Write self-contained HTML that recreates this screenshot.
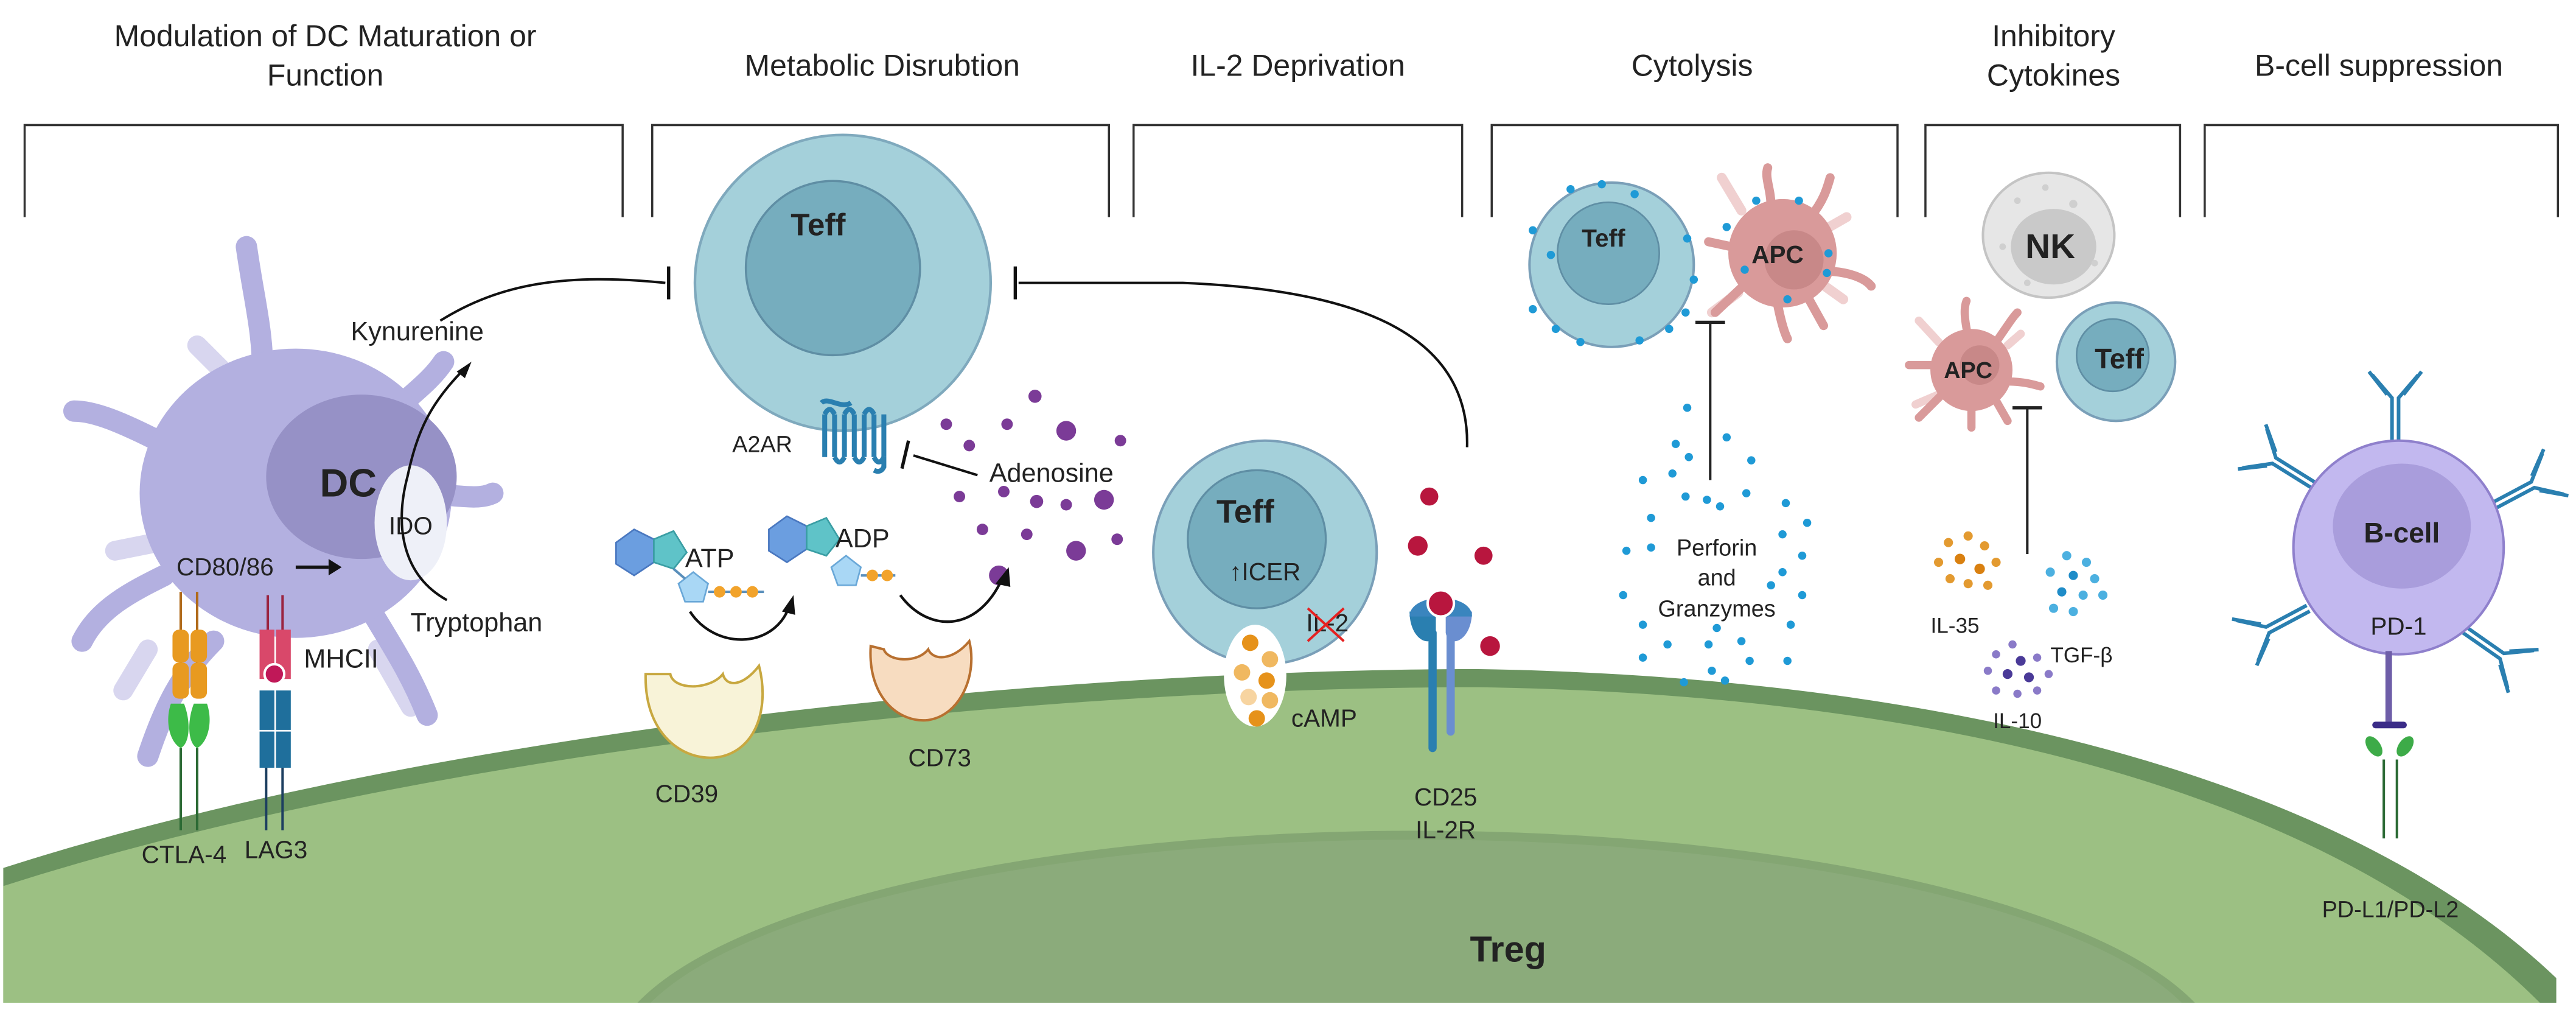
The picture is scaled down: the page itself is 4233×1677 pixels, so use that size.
<!DOCTYPE html>
<html><head><meta charset="utf-8"><style>
html,body{margin:0;padding:0;background:#fff;width:4233px;height:1677px;overflow:hidden;}
svg{display:block;position:absolute;left:0;top:0;}
text{font-family:"Liberation Sans",sans-serif;fill:#222;}
</style></head><body>
<svg width="4233" height="1677" viewBox="0 0 1568 621" xmlns="http://www.w3.org/2000/svg">
<rect width="1568" height="621" fill="#fff"/>
<!-- headers -->
<g font-size="18.5" text-anchor="middle">
<text x="198" y="28">Modulation of DC Maturation or</text>
<text x="198" y="52">Function</text>
<text x="537" y="46">Metabolic Disrubtion</text>
<text x="790" y="46">IL-2 Deprivation</text>
<text x="1030" y="46">Cytolysis</text>
<text x="1250" y="28">Inhibitory</text>
<text x="1250" y="52">Cytokines</text>
<text x="1448" y="46">B-cell suppression</text>
</g>
<g stroke="#333" fill="none" stroke-width="1.3">
<path d="M15,132 V76 H379 V132"/>
<path d="M397,132 V76 H675 V132"/>
<path d="M690,132 V76 H890 V132"/>
<path d="M908,132 V76 H1155 V132"/>
<path d="M1172,132 V76 H1327 V132"/>
<path d="M1342,132 V76 H1557 V132"/>
</g>
<!-- Treg -->
<path d="M2,528 C 270,442 650,407 900,407 C 1160,411 1420,465 1556,595 L1556,610 L2,610 Z" fill="#6b9460"/>
<path d="M2,539 C 270,453 650,418 900,418 C 1160,422 1410,474 1546,610 L2,610 Z" fill="#9cc083"/>
<path d="M388,610 A492,143 0 0 1 1336,610 Z" fill="#84a673"/>
<path d="M396,610 A484,136 0 0 1 1328,610 Z" fill="#8bab7b"/>
<text x="918" y="585" font-size="22" font-weight="bold" text-anchor="middle">Treg</text>

<!-- DC -->
<g stroke-linecap="round" fill="none">
<g stroke="#d8d6ef" stroke-width="12">
<path d="M120,210 L150,240"/><path d="M215,280 L245,255"/><path d="M95,330 L70,335"/><path d="M90,395 L75,420"/><path d="M230,395 L250,430"/>
</g>
<g stroke="#b3b0e0" stroke-width="13">
<path d="M160,230 C160,200 155,185 150,150"/>
<path d="M100,270 C80,260 60,250 45,250"/>
<path d="M240,250 C250,240 262,232 270,220"/>
<path d="M250,300 C275,300 290,305 300,300"/>
<path d="M100,350 C80,360 60,370 50,390"/>
<path d="M225,370 C240,395 250,410 260,435"/>
<path d="M130,390 C110,410 100,430 90,460"/>
</g>
</g>
<ellipse cx="180" cy="300" rx="95" ry="88" fill="#b3b0e0"/>
<ellipse cx="220" cy="290" rx="58" ry="50" fill="#9691c6"/>
<text x="212" y="302" font-size="24" font-weight="bold" text-anchor="middle">DC</text>
<ellipse cx="250" cy="318" rx="22" ry="35" fill="#eef0f8"/>
<text x="250" y="325" font-size="15" text-anchor="middle">IDO</text>
<text x="137" y="350" font-size="15" text-anchor="middle">CD80/86</text>
<path d="M180,345 H200" stroke="#111" stroke-width="2"/><path d="M200,340 L208,345 L200,350 Z" fill="#111"/>
<!-- CTLA4 -->
<g stroke-width="1.5">
<path d="M110,360 V418 M120,360 V418" stroke="#b06a1a"/>
<rect x="105" y="383" width="10" height="20" rx="4" fill="#e89a20"/><rect x="116" y="383" width="10" height="20" rx="4" fill="#e89a20"/>
<rect x="105" y="403" width="10" height="22" rx="4" fill="#e89a20"/><rect x="116" y="403" width="10" height="22" rx="4" fill="#e89a20"/>
<path d="M104,428 C100,440 104,452 110,455 C116,452 116,438 112,428 Z" fill="#3dbb48"/>
<path d="M126,428 C130,440 126,452 120,455 C114,452 114,438 118,428 Z" fill="#3dbb48"/>
<path d="M110,455 V505 M120,455 V505" stroke="#2b6a34"/>
</g>
<!-- LAG3 MHCII -->
<g stroke-width="1.5">
<path d="M163,362 V405 M172,362 V405" stroke="#9a2440"/>
<rect x="158" y="383" width="9" height="30" fill="#d9486a"/><rect x="168" y="383" width="9" height="30" fill="#d9486a"/>
<circle cx="167" cy="410" r="6" fill="#c01858" stroke="#fff" stroke-width="1.5"/>
<rect x="158" y="420" width="9" height="24" fill="#1f6f9c"/><rect x="168" y="420" width="9" height="24" fill="#1f6f9c"/>
<rect x="158" y="445" width="9" height="22" fill="#1f6f9c"/><rect x="168" y="445" width="9" height="22" fill="#1f6f9c"/>
<path d="M162,467 V505 M172,467 V505" stroke="#1d3f60"/>
</g>
<text x="185" y="406" font-size="16">MHCII</text>
<text x="112" y="525" font-size="15" text-anchor="middle">CTLA-4</text>
<text x="168" y="522" font-size="15" text-anchor="middle">LAG3</text>
<!-- kynurenine -->
<text x="254" y="207" font-size="16" text-anchor="middle">Kynurenine</text>
<text x="290" y="384" font-size="16" text-anchor="middle">Tryptophan</text>
<path d="M272,365 C245,350 240,320 248,290 C254,262 262,245 283,224" stroke="#111" stroke-width="1.5" fill="none"/>
<path d="M278,226 L287,220 L283,230 Z" fill="#111"/>
<path d="M268,195 C305,172 345,166 405,172" stroke="#111" stroke-width="1.5" fill="none"/>
<path d="M407,162 V182" stroke="#111" stroke-width="2"/>

<!-- Big Teff -->
<circle cx="513" cy="172" r="90" fill="#a4d0da" stroke="#7fa9bd" stroke-width="1.6"/>
<circle cx="507" cy="163" r="53" fill="#76adbe" stroke="#5f8ea4" stroke-width="1.3"/>
<text x="498" y="143" font-size="19" font-weight="bold" text-anchor="middle">Teff</text>
<!-- A2AR -->
<g stroke="#2a7fb0" stroke-width="3" fill="none">
<path d="M500,245 C504,241 512,249 518,245"/>
<path d="M502,252 V278 M508,252 V278 M514,252 V278 M520,252 V278 M526,252 V278 M532,252 V278 M538,252 V278"/>
<path d="M502,252 Q505,246 508,252 M514,252 Q517,246 520,252 M526,252 Q529,246 532,252 M508,278 Q511,284 514,278 M520,278 Q523,284 526,278 M532,278 Q535,284 538,278"/>
<path d="M538,278 V284 Q536,288 532,286"/>
</g>
<text x="464" y="275" font-size="14" text-anchor="middle">A2AR</text>
<text x="640" y="293" font-size="16" text-anchor="middle">Adenosine</text>
<path d="M595,289 L556,277" stroke="#111" stroke-width="1.5"/><path d="M553,268 L549,285" stroke="#111" stroke-width="2"/>
<g fill="#7b3b97">
<circle cx="630" cy="241" r="4"/><circle cx="576" cy="258" r="3.5"/><circle cx="613" cy="258" r="3.5"/><circle cx="649" cy="262" r="6"/>
<circle cx="682" cy="268" r="3.5"/><circle cx="590" cy="271" r="3.5"/>
<circle cx="584" cy="302" r="3.5"/><circle cx="611" cy="299" r="3.5"/><circle cx="631" cy="305" r="4"/><circle cx="649" cy="307" r="3.5"/><circle cx="672" cy="304" r="6"/>
<circle cx="625" cy="325" r="3.5"/><circle cx="655" cy="335" r="6"/><circle cx="680" cy="328" r="3.5"/><circle cx="608" cy="350" r="6"/><circle cx="598" cy="322" r="3.5"/>
</g>
<!-- ATP ADP -->
<g>
<polygon points="375,330 386,322 398,328 398,342 386,350 375,343" fill="#6b9ee0" stroke="#4a78c0"/>
<polygon points="398,328 410,323 418,336 410,346 398,342" fill="#5fc3c8" stroke="#3a9ea4"/>
<polygon points="413,355 422,348 431,355 428,366 417,366" fill="#a9d7f5" stroke="#6aa8d8"/>
<path d="M410,346 L417,352 M431,360 H465" stroke="#5a8fbb" stroke-width="1.5"/>
<circle cx="438" cy="360" r="3.5" fill="#f2a32b"/><circle cx="448" cy="360" r="3.5" fill="#f2a32b"/><circle cx="458" cy="360" r="3.5" fill="#f2a32b"/>
<text x="432" y="345" font-size="16" text-anchor="middle">ATP</text>
<polygon points="468,322 479,314 491,320 491,334 479,342 468,335" fill="#6b9ee0" stroke="#4a78c0"/>
<polygon points="491,320 503,315 511,328 503,338 491,334" fill="#5fc3c8" stroke="#3a9ea4"/>
<polygon points="506,345 515,338 524,345 521,356 510,356" fill="#a9d7f5" stroke="#6aa8d8"/>
<path d="M524,350 H545" stroke="#5a8fbb" stroke-width="1.5"/>
<circle cx="531" cy="350" r="3.5" fill="#f2a32b"/><circle cx="540" cy="350" r="3.5" fill="#f2a32b"/>
<text x="525" y="333" font-size="16" text-anchor="middle">ADP</text>
</g>
<path d="M420,372 C435,395 470,395 480,370" stroke="#111" stroke-width="1.6" fill="none"/><path d="M476,372 L483,362 L484,374 Z" fill="#111"/>
<path d="M548,362 C565,385 595,385 610,352" stroke="#111" stroke-width="1.6" fill="none"/><path d="M606,355 L614,345 L615,357 Z" fill="#111"/>
<path d="M393,410 C392,450 420,465 440,460 C462,454 468,428 462,405 C452,418 442,418 440,410 C432,420 410,420 408,410 Z" fill="#f8f3d8" stroke="#c8a840" stroke-width="1.5"/>
<text x="418" y="488" font-size="15" text-anchor="middle">CD39</text>
<path d="M530,393 C528,425 548,440 565,438 C585,435 595,410 590,390 C580,402 568,402 565,395 C558,404 540,402 538,395 Z" fill="#f7dcc0" stroke="#b87030" stroke-width="1.5"/>
<text x="572" y="466" font-size="15" text-anchor="middle">CD73</text>

<!-- long inhibition arc -->
<path d="M893,272 C895,200 820,176 720,172 L620,172" stroke="#111" stroke-width="1.5" fill="none"/>
<path d="M618,162 V182" stroke="#111" stroke-width="2"/>

<!-- Teff IL2 -->
<circle cx="770" cy="336" r="68" fill="#a4d0da" stroke="#7a9fb8" stroke-width="1.5"/>
<circle cx="765" cy="328" r="42" fill="#76adbe" stroke="#5f8ea4" stroke-width="1.2"/>
<text x="758" y="318" font-size="20" font-weight="bold" text-anchor="middle">Teff</text>
<text x="770" y="353" font-size="15" text-anchor="middle">↑ICER</text>
<text x="808" y="384" font-size="15" text-anchor="middle">IL-2</text>
<path d="M796,370 L818,390 M818,370 L796,390" stroke="#e52020" stroke-width="1.5"/>
<ellipse cx="764" cy="411" rx="19" ry="31" fill="#fff"/>
<g fill="#e6921a"><circle cx="761" cy="391" r="5"/><circle cx="773" cy="401" r="5" fill="#f0b860"/><circle cx="756" cy="409" r="5" fill="#f0b860"/><circle cx="771" cy="414" r="5"/><circle cx="760" cy="424" r="5" fill="#f7d4a0"/><circle cx="773" cy="426" r="5" fill="#f0b860"/><circle cx="765" cy="437" r="5"/></g>
<text x="806" y="442" font-size="15" text-anchor="middle">cAMP</text>
<!-- CD25 -->
<path d="M872,385 V455" stroke="#2a7fb0" stroke-width="5" stroke-linecap="round"/>
<path d="M883,385 V445" stroke="#6a8ed0" stroke-width="5" stroke-linecap="round"/>
<path d="M858,372 C858,390 872,395 874,385 V372 Z" fill="#2a7fb0"/>
<path d="M896,372 C896,390 882,395 880,385 V372 Z" fill="#6a8ed0"/>
<path d="M858,375 C858,360 896,360 896,375 Z" fill="#3a85be"/>
<circle cx="877" cy="367" r="8" fill="#b8163e" stroke="#fff" stroke-width="1.5"/>
<g fill="#b8163e"><circle cx="870" cy="302" r="5.5"/><circle cx="863" cy="332" r="6"/><circle cx="903" cy="338" r="5.5"/><circle cx="907" cy="393" r="6"/></g>
<text x="880" y="490" font-size="15" text-anchor="middle">CD25</text>
<text x="880" y="510" font-size="15" text-anchor="middle">IL-2R</text>

<!-- Cytolysis -->
<circle cx="981" cy="161" r="50" fill="#a4d0da" stroke="#7a9fb8" stroke-width="1.5"/>
<circle cx="979" cy="154" r="31" fill="#76adbe" stroke="#5f8ea4"/>
<text x="976" y="150" font-size="15" font-weight="bold" text-anchor="middle">Teff</text>
<g stroke-linecap="round" fill="none">
<g stroke="#f0d0d0" stroke-width="6"><path d="M1060,128 L1048,108"/><path d="M1110,140 L1124,132"/><path d="M1108,172 L1122,182"/><path d="M1058,178 L1042,190"/></g>
<g stroke="#d99a9a" stroke-width="5.5"><path d="M1078,125 C1078,115 1074,108 1076,102"/><path d="M1102,132 C1110,122 1112,115 1114,108"/><path d="M1054,150 L1040,147"/><path d="M1115,165 C1128,166 1136,170 1139,174"/><path d="M1060,175 L1044,190"/><path d="M1082,185 C1084,195 1086,202 1088,206"/><path d="M1100,180 L1110,198"/></g>
</g>
<circle cx="1085" cy="154" r="33" fill="#d99a9a"/>
<circle cx="1092" cy="158" r="18" fill="#c88888"/>
<text x="1082" y="160" font-size="15" font-weight="bold" text-anchor="middle">APC</text>
<g fill="#1f9ad6">
<circle cx="956" cy="115" r="2.5"/><circle cx="975" cy="112" r="2.5"/><circle cx="995" cy="118" r="2.5"/><circle cx="933" cy="140" r="2.5"/><circle cx="1027" cy="145" r="2.5"/><circle cx="1031" cy="170" r="2.5"/><circle cx="933" cy="188" r="2.5"/><circle cx="947" cy="200" r="2.5"/><circle cx="962" cy="208" r="2.5"/><circle cx="998" cy="207" r="2.5"/><circle cx="1026" cy="190" r="2.5"/><circle cx="944" cy="155" r="2.5"/><circle cx="1016" cy="200" r="2.5"/>
<circle cx="1069" cy="122" r="2.5"/><circle cx="1095" cy="122" r="2.5"/><circle cx="1051" cy="138" r="2.5"/><circle cx="1113" cy="154" r="2.5"/><circle cx="1112" cy="166" r="2.5"/><circle cx="1062" cy="164" r="2.5"/><circle cx="1088" cy="182" r="2.5"/>
</g>
<path d="M1041,196 V292" stroke="#222" stroke-width="1.5"/><path d="M1032,196 H1050" stroke="#222" stroke-width="2"/>
<g fill="#1f9ad6">
<circle cx="1027" cy="248" r="2.5"/><circle cx="1020" cy="270" r="2.5"/><circle cx="1051" cy="266" r="2.5"/><circle cx="1028" cy="278" r="2.5"/><circle cx="1066" cy="280" r="2.5"/><circle cx="1000" cy="292" r="2.5"/><circle cx="1018" cy="288" r="2.5"/><circle cx="1026" cy="302" r="2.5"/><circle cx="1039" cy="304" r="2.5"/><circle cx="1047" cy="308" r="2.5"/><circle cx="1063" cy="300" r="2.5"/><circle cx="1087" cy="306" r="2.5"/><circle cx="1005" cy="315" r="2.5"/><circle cx="1100" cy="318" r="2.5"/>
<circle cx="990" cy="335" r="2.5"/><circle cx="1005" cy="333" r="2.5"/><circle cx="1085" cy="325" r="2.5"/><circle cx="1097" cy="338" r="2.5"/><circle cx="1085" cy="348" r="2.5"/><circle cx="1078" cy="356" r="2.5"/><circle cx="988" cy="362" r="2.5"/><circle cx="1097" cy="362" r="2.5"/><circle cx="1000" cy="380" r="2.5"/><circle cx="1045" cy="382" r="2.5"/><circle cx="1090" cy="380" r="2.5"/><circle cx="1015" cy="392" r="2.5"/><circle cx="1040" cy="392" r="2.5"/><circle cx="1060" cy="390" r="2.5"/><circle cx="1000" cy="400" r="2.5"/><circle cx="1042" cy="408" r="2.5"/><circle cx="1065" cy="402" r="2.5"/><circle cx="1088" cy="402" r="2.5"/><circle cx="1025" cy="415" r="2.5"/><circle cx="1050" cy="414" r="2.5"/>
</g>
<text x="1045" y="338" font-size="14" text-anchor="middle">Perforin</text>
<text x="1045" y="356" font-size="14" text-anchor="middle">and</text>
<text x="1045" y="375" font-size="14" text-anchor="middle">Granzymes</text>

<!-- Inhibitory cytokines -->
<ellipse cx="1247" cy="143" rx="40" ry="38" fill="#e6e6e6" stroke="#c4c4c4" stroke-width="1.5"/>
<ellipse cx="1250" cy="150" rx="26" ry="23" fill="#c9c9c9"/>
<g fill="#cfcfcf"><circle cx="1228" cy="122" r="2"/><circle cx="1245" cy="114" r="2"/><circle cx="1262" cy="124" r="2.5"/><circle cx="1219" cy="150" r="2"/><circle cx="1234" cy="172" r="2"/><circle cx="1275" cy="160" r="2"/></g>
<text x="1248" y="157" font-size="21" font-weight="bold" text-anchor="middle">NK</text>
<g stroke-linecap="round" fill="none">
<g stroke="#f0d0d0" stroke-width="5"><path d="M1180,208 L1168,195"/><path d="M1180,240 L1166,246"/><path d="M1222,210 L1230,203"/></g>
<g stroke="#d99a9a" stroke-width="5"><path d="M1198,205 C1196,195 1195,188 1197,183"/><path d="M1215,208 C1222,198 1225,193 1228,190"/><path d="M1178,222 L1162,222"/><path d="M1222,232 C1232,232 1238,234 1242,235"/><path d="M1182,240 L1168,254"/><path d="M1200,246 L1200,260"/><path d="M1214,242 L1222,256"/></g>
</g>
<circle cx="1200" cy="225" r="25" fill="#d99a9a"/>
<circle cx="1205" cy="222" r="12" fill="#c88888"/>
<text x="1198" y="230" font-size="14" font-weight="bold" text-anchor="middle">APC</text>
<circle cx="1288" cy="220" r="36" fill="#a4d0da" stroke="#7a9fb8" stroke-width="1.5"/>
<circle cx="1286" cy="216" r="22" fill="#76adbe" stroke="#5f8ea4"/>
<text x="1290" y="224" font-size="17" font-weight="bold" text-anchor="middle">Teff</text>
<path d="M1234,248 V337" stroke="#222" stroke-width="1.5"/><path d="M1225,248 H1243" stroke="#222" stroke-width="2"/>
<g fill="#e39a30">
<circle cx="1186" cy="330" r="2.8"/><circle cx="1198" cy="326" r="2.8"/><circle cx="1208" cy="332" r="2.8"/><circle cx="1180" cy="342" r="2.8"/><circle cx="1193" cy="340" r="3.2" fill="#d98010"/><circle cx="1205" cy="346" r="3.2" fill="#d98010"/><circle cx="1215" cy="342" r="2.8"/><circle cx="1187" cy="352" r="2.8"/><circle cx="1198" cy="355" r="2.8"/><circle cx="1210" cy="356" r="2.8"/>
</g>
<text x="1190" y="385" font-size="13" text-anchor="middle">IL-35</text>
<g fill="#4cb0e0">
<circle cx="1258" cy="338" r="2.8"/><circle cx="1270" cy="342" r="2.8"/><circle cx="1248" cy="348" r="2.8"/><circle cx="1262" cy="350" r="2.8" fill="#1f8cc8"/><circle cx="1275" cy="352" r="2.8"/><circle cx="1255" cy="360" r="2.8" fill="#1f8cc8"/><circle cx="1268" cy="362" r="2.8"/><circle cx="1280" cy="362" r="2.8"/><circle cx="1250" cy="370" r="2.8"/><circle cx="1262" cy="372" r="2.8"/>
</g>
<text x="1267" y="403" font-size="13" text-anchor="middle">TGF-β</text>
<g fill="#8a7ac8">
<circle cx="1225" cy="392" r="2.5"/><circle cx="1215" cy="398" r="2.5"/><circle cx="1230" cy="402" r="3" fill="#4a3a98"/><circle cx="1240" cy="400" r="2.5"/><circle cx="1210" cy="408" r="2.5"/><circle cx="1222" cy="410" r="3" fill="#4a3a98"/><circle cx="1235" cy="412" r="3" fill="#4a3a98"/><circle cx="1247" cy="410" r="2.5"/><circle cx="1215" cy="420" r="2.5"/><circle cx="1228" cy="422" r="2.5"/><circle cx="1240" cy="420" r="2.5"/>
</g>
<text x="1228" y="443" font-size="13" text-anchor="middle">IL-10</text>

<!-- B cell -->
<g stroke="#2a7fb0" stroke-width="2.2" fill="none">
<g transform="translate(1458,270)"><path d="M-2,0 V-28 L-14,-42 M2,0 V-28 L14,-42 M-5,-30 L-16,-44 M5,-30 L16,-44"/></g>
<g transform="translate(1408,295) rotate(-58)"><path d="M-2,0 V-28 L-14,-42 M2,0 V-28 L14,-42 M-5,-30 L-16,-44 M5,-30 L16,-44"/></g>
<g transform="translate(1517,308) rotate(62)"><path d="M-2,0 V-28 L-14,-42 M2,0 V-28 L14,-42 M-5,-30 L-16,-44 M5,-30 L16,-44"/></g>
<g transform="translate(1405,370) rotate(-118)"><path d="M-2,0 V-28 L-14,-42 M2,0 V-28 L14,-42 M-5,-30 L-16,-44 M5,-30 L16,-44"/></g>
<g transform="translate(1500,383) rotate(125)"><path d="M-2,0 V-28 L-14,-42 M2,0 V-28 L14,-42 M-5,-30 L-16,-44 M5,-30 L16,-44"/></g>
</g>
<ellipse cx="1460" cy="333" rx="64" ry="65" fill="#c2b8ef" stroke="#8f80cc" stroke-width="1.5"/>
<ellipse cx="1462" cy="320" rx="42" ry="38" fill="#a99ddc"/>
<text x="1462" y="330" font-size="17" font-weight="bold" text-anchor="middle">B-cell</text>
<text x="1460" y="386" font-size="15" text-anchor="middle">PD-1</text>
<path d="M1454,396 V440" stroke="#6e5ea8" stroke-width="4"/>
<path d="M1446,441 H1463" stroke="#3b2c88" stroke-width="4" stroke-linecap="round"/>
<ellipse cx="1445" cy="454" rx="4" ry="7" transform="rotate(-35 1445 454)" fill="#3dab48"/>
<ellipse cx="1464" cy="454" rx="4" ry="7" transform="rotate(35 1464 454)" fill="#3dab48"/>
<path d="M1451,462 V510 M1459,462 V510" stroke="#2b6a34" stroke-width="1.5"/>
<text x="1455" y="558" font-size="14" text-anchor="middle">PD-L1/PD-L2</text>
</svg>
</body></html>
